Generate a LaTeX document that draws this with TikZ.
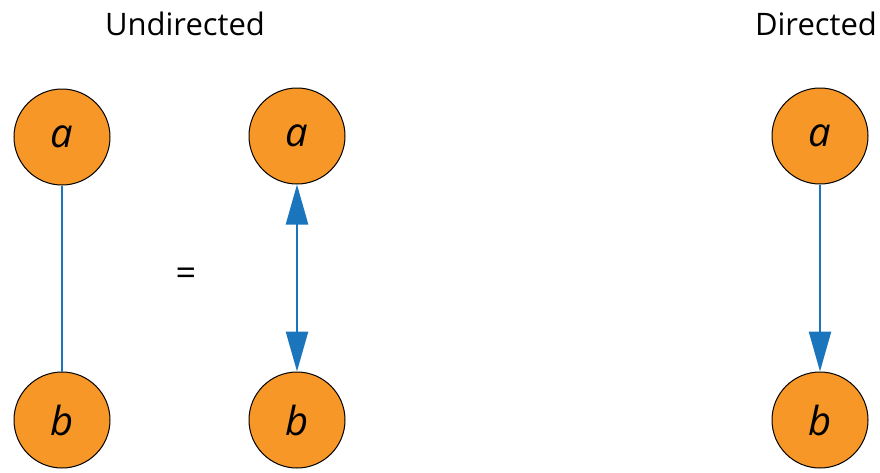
\documentclass[tikz,border=0pt]{standalone}
\usepackage{fontspec}
\setmainfont{Open Sans}
\usetikzlibrary{arrows.meta}
\definecolor{nodeorange}{RGB}{246,151,40}
\definecolor{edgeblue}{RGB}{27,117,188}
\tikzset{
  vertex/.style={circle,draw=black,line width=1pt,fill=nodeorange,minimum size=96pt,inner sep=0pt,font=\fontsize{40}{42}\selectfont\itshape},
  edge/.style={draw=edgeblue,line width=2.5pt},
  tip/.style={-{Triangle[length=40pt,width=22pt]}},
  label/.style={font=\fontsize{31}{34}\selectfont,inner sep=0pt}
}
\begin{document}
\begin{tikzpicture}[x=1pt,y=-1pt]
\useasboundingbox (0,0) rectangle (880,472);
\node[label] (tu) at (185,24) {Undirected};
\node[label] (td) at (816,24) {Directed};
\node[vertex] (a1) at (62,137) {a};
\node[vertex] (b1) at (62,420) {b};
\node[vertex] (a2) at (297,136) {a};
\node[vertex] (b2) at (297,420) {b};
\node[vertex] (a3) at (820,136) {a};
\node[vertex] (b3) at (820,420) {b};
\node[font=\fontsize{36}{40}\selectfont,inner sep=0pt] (eq) at (186,277) {=};
\draw[edge] (a1) -- (b1);
\draw[edge,{Triangle[length=40pt,width=22pt]}-{Triangle[length=40pt,width=22pt]}] (a2) -- (b2);
\draw[edge,tip] (a3) -- (b3);
\end{tikzpicture}
\end{document}
